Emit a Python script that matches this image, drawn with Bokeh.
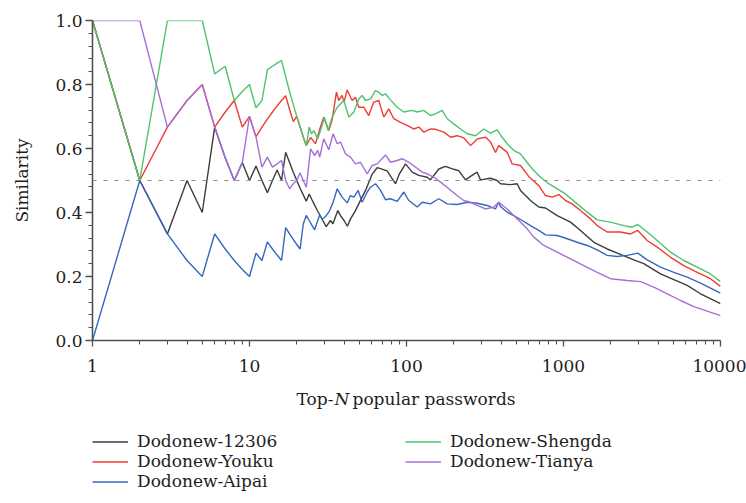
from bokeh.plotting import figure
from bokeh.layouts import column
from bokeh.models import (Range1d, FixedTicker, PrintfTickFormatter, BasicTickFormatter,
                          Span, Legend, LegendItem, Label)
from bokeh.embed import file_html
from bokeh.resources import INLINE

# Similarity of the top-N password lists against Dodonew
n_12306 = [1, 2, 3, 4, 5, 6, 7, 8, 9, 10, 11, 12, 13, 14, 15, 16, 17, 18, 19, 20, 21, 22, 23, 24,
           25, 26, 27, 28, 29, 30.8, 32.8, 34, 36.5, 38, 40, 42, 44, 47.3, 50, 54.8,
           60.5, 65, 68.3, 75.3, 80, 85.1, 90, 98.6, 108.7, 119.7,
           135.5, 142, 160.7, 177, 200, 215, 237.6, 260, 282, 296,
           343, 378, 397, 460, 507, 532, 601, 616, 696, 768,
           912, 1109, 1283, 1560, 1898, 2306, 2806, 3245, 4150, 5047,
           6133, 7462, 10000]
sim_12306 = [1.0, 0.5, 0.333, 0.5, 0.4, 0.667, 0.571, 0.5, 0.556, 0.5, 0.545, 0.5, 0.462, 0.5, 0.533,
             0.5, 0.588, 0.556, 0.526, 0.5, 0.476, 0.455, 0.435, 0.458,
             0.44, 0.423, 0.407, 0.393, 0.379, 0.356, 0.375, 0.365, 0.406, 0.39, 0.375, 0.357, 0.38,
             0.406, 0.43, 0.469,
             0.52, 0.54, 0.537, 0.53, 0.51, 0.49, 0.52, 0.552, 0.526, 0.516,
             0.51, 0.502, 0.536, 0.544, 0.535, 0.531, 0.502, 0.515, 0.526, 0.502,
             0.507, 0.5, 0.49, 0.487, 0.49, 0.469, 0.443, 0.4375, 0.417, 0.414,
             0.39, 0.37, 0.344, 0.307, 0.286, 0.269, 0.252, 0.24, 0.208, 0.19,
             0.172, 0.146, 0.115]

n_youku = [1, 2, 3, 4, 5, 6, 7, 8, 9, 10, 11, 12, 13, 14, 15, 16, 17, 18, 19, 20, 21, 22, 23,
           24.5, 26.3, 28.3, 29.7, 32, 33.6, 35.8, 37, 38.9, 40,
           41.9, 45.1, 47.3, 49.7, 53.4, 57.5, 61.9, 66.6, 71.7, 77.1,
           83, 91.6, 101, 111, 120, 129, 142, 153, 173, 191,
           210, 232, 256, 282, 319, 343, 369, 387, 438, 471,
           532, 607, 696, 768, 847, 934, 1030, 1136, 1283, 1486,
           1640, 1898, 2306, 2673, 2974, 3412, 3952, 4808, 5838, 7109,
           8631, 10000]
sim_youku = [1.0, 0.5, 0.667, 0.75, 0.8, 0.667, 0.714, 0.75, 0.667, 0.7, 0.636, 0.667, 0.692, 0.714,
             0.733, 0.75, 0.765, 0.722, 0.684, 0.7, 0.667, 0.636, 0.609,
             0.635, 0.615, 0.667, 0.698, 0.656, 0.69, 0.776, 0.75, 0.766, 0.745,
             0.783, 0.75, 0.76, 0.729, 0.729, 0.703, 0.745, 0.75, 0.698, 0.724,
             0.693, 0.682, 0.672, 0.661, 0.667, 0.651, 0.661, 0.66, 0.651, 0.635,
             0.64, 0.633, 0.609, 0.63, 0.635, 0.62, 0.588, 0.609, 0.588, 0.552,
             0.547, 0.51, 0.484, 0.453, 0.448, 0.456, 0.4375, 0.427, 0.406, 0.38,
             0.359, 0.339, 0.339, 0.333, 0.344, 0.3125, 0.292, 0.26, 0.234, 0.213,
             0.193, 0.169]

n_aipai = [1, 2, 3, 4, 5, 6, 7, 8, 9, 10, 11, 12, 13, 14, 15, 16, 17, 18, 19, 20, 21, 22, 23, 24,
           25, 26, 27, 28, 29,
           30.5, 32, 34, 36.2, 38.9, 41.9, 44, 46.2, 49.2, 52.2,
           56.2, 59, 63.5, 68.3, 73.5, 79.1, 87.2, 96.1, 103.5, 117,
           126, 142, 160.7, 181.7, 210, 243.6, 282, 326.4, 368.8, 387,
           397, 438, 482.6, 545.6, 616, 696, 768, 912, 1056, 1222,
           1415, 1640, 1898, 2196, 2545, 2974, 3412, 4150, 5047, 6133,
           7462, 10000]
sim_aipai = [0.0, 0.5, 0.333, 0.25, 0.2, 0.333, 0.286, 0.25, 0.222, 0.2, 0.273, 0.25, 0.308, 0.286,
             0.267, 0.25, 0.353, 0.333, 0.316, 0.3, 0.286, 0.364, 0.391, 0.375, 0.36, 0.346, 0.37,
             0.393, 0.379,
             0.3875, 0.401, 0.43, 0.474, 0.448, 0.43, 0.453, 0.448, 0.469, 0.432,
             0.464, 0.479, 0.49, 0.469, 0.44, 0.443, 0.435, 0.464, 0.4375, 0.417,
             0.432, 0.427, 0.443, 0.427, 0.425, 0.432, 0.429, 0.422, 0.411, 0.432,
             0.419, 0.401, 0.39, 0.375, 0.359, 0.344, 0.33, 0.328, 0.318, 0.307,
             0.297, 0.283, 0.266, 0.2625, 0.266, 0.273, 0.252, 0.229, 0.213, 0.198,
             0.179, 0.148]

n_shengda = [1, 2, 3, 4, 5, 6, 7, 8, 9, 10, 11, 12, 13, 14, 15, 16, 17, 18, 19, 20, 21, 22, 23, 24,
             24.8, 25.7, 27.2, 29, 30, 31.7, 33.6, 36.2, 39.9, 42.9,
             46.2, 49.7, 52.2, 54.8, 59, 63.5, 66.6, 70, 73.5, 79.1,
             87.2, 96.1, 108.7, 117, 128.8, 142, 153, 168.8, 181.7, 200,
             220.7, 243.6, 275, 310.6, 342.7, 378, 407, 438, 482.6, 532,
             607, 647, 714, 806, 912, 1030, 1222, 1415, 1640, 1992,
             2421, 2740, 2974, 3412, 3952, 4808, 5838, 7109, 8631, 10000]
sim_shengda = [1.0, 0.5, 1.0, 1.0, 1.0, 0.833, 0.857, 0.75, 0.778, 0.8, 0.727, 0.75, 0.846, 0.857,
               0.867, 0.875, 0.824, 0.778, 0.737, 0.7, 0.667, 0.636, 0.609, 0.667,
               0.646, 0.656, 0.63, 0.672, 0.698, 0.656, 0.698, 0.729, 0.75, 0.698,
               0.714, 0.755, 0.766, 0.75, 0.755, 0.781, 0.776, 0.766, 0.771, 0.752,
               0.729, 0.714, 0.719, 0.714, 0.719, 0.703, 0.708, 0.719, 0.693, 0.677,
               0.661, 0.646, 0.64, 0.661, 0.648, 0.658, 0.635, 0.615, 0.594, 0.583,
               0.547, 0.531, 0.51, 0.49, 0.474, 0.458, 0.427, 0.401, 0.377, 0.37,
               0.359, 0.354, 0.3625, 0.339, 0.3125, 0.276, 0.25, 0.229, 0.208, 0.184]

n_tianya = [1, 2, 3, 4, 5, 6, 7, 8, 9, 10, 11, 12, 13, 14, 15, 16, 17, 18, 19, 20, 21, 22, 23,
            24.5, 26, 27.2, 28, 29.7, 32, 34.1, 36.2, 38, 40.9,
            44, 47.3, 50.9, 56.2, 60.5, 65, 73.5, 79.1, 87.2, 93.9,
            103.5, 114, 126, 135.5, 149.3, 164.8, 186, 210, 231.7, 255.7,
            282, 318.6, 359.8, 387, 438, 494.6, 587, 647, 749, 912,
            1109, 1346, 1640, 1992, 2545, 3092, 3758, 4580, 5565, 6761,
            8224, 10000]
sim_tianya = [1.0, 1.0, 0.667, 0.75, 0.8, 0.667, 0.571, 0.5, 0.556, 0.7, 0.636, 0.542, 0.573, 0.542,
              0.552, 0.5625, 0.5, 0.474, 0.49, 0.5, 0.524, 0.5, 0.479,
              0.599, 0.578, 0.594, 0.573, 0.63, 0.596, 0.646, 0.615, 0.62, 0.583,
              0.573, 0.552, 0.557, 0.521, 0.547, 0.552, 0.58, 0.557, 0.5625, 0.568,
              0.557, 0.542, 0.526, 0.521, 0.51, 0.495, 0.474, 0.453, 0.4375, 0.432,
              0.422, 0.411, 0.417, 0.432, 0.411, 0.385, 0.349, 0.323, 0.297, 0.276,
              0.255, 0.234, 0.213, 0.193, 0.1875, 0.184, 0.167, 0.146, 0.125, 0.106,
              0.092, 0.078]

x_major = [1, 10, 100, 1000, 10000]
y_major = [0.0, 0.2, 0.4, 0.6, 0.8, 1.0]
threshold = 0.5

SERIF = "DejaVu Serif"
TEXT = "#1e1e1e"
AXIS = "#505050"

series = [
    ("Dodonew-12306", n_12306, sim_12306, "#3c3c3c"),
    ("Dodonew-Youku", n_youku, sim_youku, "#f03c34"),
    ("Dodonew-Aipai", n_aipai, sim_aipai, "#3567c0"),
    ("Dodonew-Shengda", n_shengda, sim_shengda, "#4cc46e"),
    ("Dodonew-Tianya", n_tianya, sim_tianya, "#a66fd8"),
]

# ---- main chart -------------------------------------------------------------
p = figure(width=746, height=378, x_axis_type="log", output_backend="svg",
           toolbar_location=None, x_range=Range1d(1, 10000), y_range=Range1d(0, 1),
           min_border_left=92, min_border_right=26, min_border_top=20, min_border_bottom=38)
p.outline_line_color = None
p.grid.visible = False
p.background_fill_color = "white"
p.border_fill_color = "white"

minor_x = [m * d for d in (1, 10, 100, 1000) for m in range(2, 10)]
p.xaxis.ticker = FixedTicker(ticks=x_major, minor_ticks=minor_x)
p.xaxis.formatter = BasicTickFormatter(use_scientific=False)
minor_y = [round(i * 0.04, 2) for i in range(26)]
p.yaxis.ticker = FixedTicker(ticks=y_major, minor_ticks=minor_y)
p.yaxis.formatter = PrintfTickFormatter(format="%.1f")

for ax in (p.xaxis[0], p.yaxis[0]):
    ax.axis_line_color = AXIS
    ax.axis_line_width = 1.6
    ax.major_tick_line_color = AXIS
    ax.minor_tick_line_color = AXIS
    ax.major_tick_line_width = 1.3
    ax.minor_tick_line_width = 1.1
    ax.major_tick_in = 0
    ax.minor_tick_in = 0
    ax.major_label_text_font = SERIF
    ax.major_label_text_font_size = "17px"
    ax.major_label_text_color = TEXT

p.yaxis.major_tick_out = 7
p.yaxis.minor_tick_out = 4
p.yaxis.major_label_standoff = 3
p.xaxis.major_tick_out = 6
p.xaxis.minor_tick_out = 4
p.xaxis.major_label_standoff = 13

p.yaxis.axis_label = "Similarity"
p.yaxis.axis_label_text_font = SERIF
p.yaxis.axis_label_text_font_size = "17px"
p.yaxis.axis_label_text_font_style = "normal"
p.yaxis.axis_label_text_color = TEXT
p.yaxis.axis_label_standoff = 20

# dashed reference line
p.add_layout(Span(location=threshold, dimension="width", line_color="#8a8a8a",
                  line_width=1.1, line_dash="4 7"))

for name, xs, ys, color in series:
    p.line(xs, ys, line_color=color, line_width=1.4)

# ---- strip under the chart: axis title and legend ---------------------------
# (its frame is aligned with the chart frame, so screen x starts at the y axis)
q = figure(width=746, height=125, x_axis_type="log", output_backend="svg",
           toolbar_location=None, x_range=Range1d(1, 10000), y_range=Range1d(0, 1),
           min_border_left=92, min_border_right=26, min_border_top=0, min_border_bottom=0)
q.axis.visible = False
q.grid.visible = False
q.outline_line_color = None
q.background_fill_color = "white"
q.border_fill_color = "white"

# x axis title with an italic N
title_parts = [("Top-", "normal", 204), ("N", "italic", 242), ("popular passwords", "normal", 260)]
for txt, style, sx in title_parts:
    q.add_layout(Label(x=sx, y=105, x_units="screen", y_units="screen", text=txt,
                       text_font=SERIF, text_font_size="17px", text_font_style=style,
                       text_color=TEXT, text_baseline="middle", text_align="left"))

# hidden copies of the series supply the legend swatches
swatches = {}
for name, xs, ys, color in series:
    swatches[name] = q.line(xs, ys, line_color=color, line_width=1.6, visible=False)


def make_legend(names, loc):
    lg = Legend(items=[LegendItem(label=n, renderers=[swatches[n]]) for n in names],
                location=loc, orientation="vertical", click_policy="none")
    lg.padding = 0
    lg.margin = 0
    lg.spacing = 0
    lg.border_line_alpha = 0
    lg.background_fill_alpha = 0
    lg.glyph_width = 36
    lg.glyph_height = 19
    lg.label_height = 19
    lg.label_standoff = 9
    lg.label_text_font = SERIF
    lg.label_text_font_size = "17px"
    lg.label_text_color = TEXT
    return lg


q.add_layout(make_legend(["Dodonew-12306", "Dodonew-Youku", "Dodonew-Aipai"], (0, 12)))
q.add_layout(make_legend(["Dodonew-Shengda", "Dodonew-Tianya"], (313, 32)))

layout = column(p, q, spacing=0)
open("out.html", "w").write(file_html(layout, INLINE))
